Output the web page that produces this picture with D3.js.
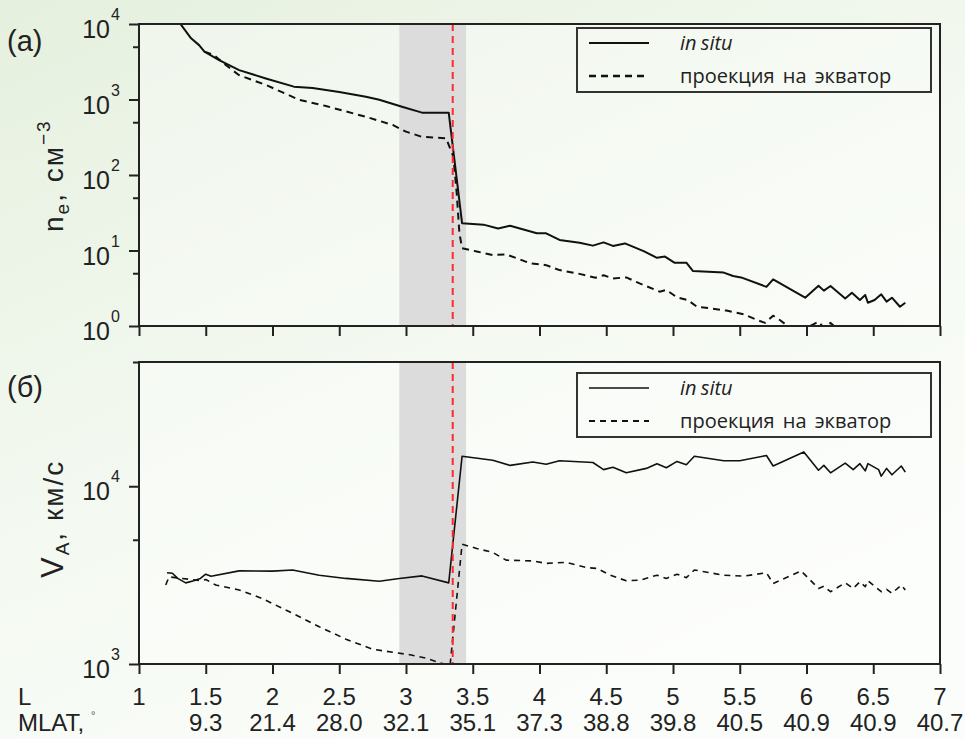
<!DOCTYPE html>
<html>
<head>
<meta charset="utf-8">
<script src="https://cdn.jsdelivr.net/npm/d3@7/dist/d3.min.js"></script>
<style>
  html, body { margin: 0; padding: 0; }
  body { width: 965px; height: 739px; overflow: hidden; }
  svg { display: block; }
</style>
</head>
<body>
<svg id="chart" width="965" height="739"></svg>
<script>
// ---- Data: electron density (panel a) ----
const neInSituL = [1.25, 1.39, 1.45, 1.49, 1.60, 1.75, 1.95, 2.16, 2.30, 2.50, 2.70, 2.80, 2.97, 3.12, 3.32, 3.42, 3.58, 3.69, 3.78, 3.98, 4.05, 4.15, 4.30, 4.40, 4.48, 4.55, 4.64, 4.78, 4.88, 4.94, 5.01, 5.10, 5.15, 5.38, 5.45, 5.51, 5.70, 5.75, 5.99, 6.09, 6.13, 6.18, 6.29, 6.34, 6.40, 6.44, 6.46, 6.51, 6.56, 6.60, 6.64, 6.70, 6.74];
const neInSitu = [14000, 6460, 5250, 4300, 3320, 2450, 1900, 1480, 1420, 1260, 1090, 990, 800, 670, 670, 23, 22, 19.6, 21.3, 16.9, 16.9, 13.8, 12.7, 11.6, 12.8, 11.5, 12.4, 9.8, 8.0, 8.3, 6.9, 6.9, 5.35, 5.1, 4.6, 4.4, 3.3, 4.15, 2.37, 3.42, 2.94, 3.39, 2.32, 2.76, 2.21, 2.57, 2.03, 2.21, 2.63, 2.1, 2.37, 1.8, 2.03];

const neEqL = [1.49, 1.56, 1.65, 1.75, 1.95, 2.20, 2.40, 2.70, 2.90, 3.00, 3.12, 3.30, 3.355, 3.38, 3.40, 3.42, 3.53, 3.65, 3.75, 3.93, 4.05, 4.15, 4.30, 4.42, 4.48, 4.55, 4.65, 4.75, 4.90, 4.95, 5.03, 5.11, 5.18, 5.28, 5.40, 5.53, 5.63, 5.69, 5.75, 5.80, 5.86, 5.95, 6.09, 6.13, 6.18, 6.25, 6.50, 6.74];
const neEq = [4300, 3890, 2860, 2100, 1560, 990, 820, 590, 460, 375, 320, 307, 175, 57, 17, 10.7, 9.7, 8.7, 8.9, 6.77, 6.4, 5.5, 4.9, 4.36, 4.7, 4.27, 4.4, 3.67, 2.85, 3.0, 2.4, 2.21, 1.8, 1.71, 1.6, 1.43, 1.2, 1.1, 1.37, 1.2, 1.0, 0.85, 1.14, 0.95, 1.1, 0.85, 0.7, 0.6];

// ---- Data: Alfvén speed (panel б) ----
const vaInSituL = [1.21, 1.25, 1.29, 1.35, 1.41, 1.46, 1.50, 1.54, 1.75, 2.00, 2.15, 2.35, 2.55, 2.80, 2.95, 3.12, 3.32, 3.42, 3.65, 3.78, 3.95, 4.05, 4.15, 4.40, 4.48, 4.55, 4.65, 4.80, 4.88, 4.95, 5.03, 5.10, 5.16, 5.38, 5.50, 5.70, 5.75, 5.98, 6.09, 6.13, 6.18, 6.29, 6.35, 6.40, 6.44, 6.46, 6.54, 6.56, 6.60, 6.64, 6.71, 6.74];
const vaInSitu = [3260, 3240, 3030, 2860, 2940, 3030, 3200, 3120, 3340, 3330, 3380, 3160, 3030, 2920, 3030, 3130, 2860, 14750, 14000, 13100, 13700, 13300, 13900, 13600, 12400, 12800, 11900, 12600, 13400, 12700, 13800, 13200, 14750, 13900, 13900, 14900, 13000, 15600, 12300, 13100, 11900, 13500, 12400, 13400, 12200, 13400, 12400, 11400, 12600, 11600, 13000, 12000];

const vaEqL = [1.20, 1.225, 1.47, 1.50, 1.575, 1.75, 1.92, 2.15, 2.35, 2.55, 2.75, 2.85, 3.02, 3.15, 3.25, 3.33, 3.42, 3.53, 3.65, 3.75, 3.95, 4.05, 4.20, 4.35, 4.43, 4.53, 4.65, 4.75, 4.88, 4.95, 5.03, 5.10, 5.16, 5.38, 5.53, 5.70, 5.75, 5.96, 6.09, 6.13, 6.18, 6.29, 6.35, 6.40, 6.44, 6.46, 6.56, 6.60, 6.64, 6.71, 6.74];
const vaEq = [2780, 3090, 2940, 2990, 2780, 2610, 2340, 1930, 1620, 1380, 1210, 1180, 1130, 1080, 1016, 980, 4720, 4470, 4240, 3840, 3800, 3680, 3730, 3490, 3450, 3160, 2940, 2960, 3160, 3030, 3200, 3060, 3380, 3160, 3120, 3260, 2840, 3340, 2660, 2740, 2550, 2860, 2660, 2900, 2720, 2940, 2550, 2630, 2500, 2780, 2610];

// ---- Axis ticks and labels ----
const lTicks = [1, 1.5, 2, 2.5, 3, 3.5, 4, 4.5, 5, 5.5, 6, 6.5, 7];
const lTickLabels = ["1", "1.5", "2", "2.5", "3", "3.5", "4", "4.5", "5", "5.5", "6", "6.5", "7"];
const mlatLabels = ["", "9.3", "21.4", "28.0", "32.1", "35.1", "37.3", "38.8", "39.8", "40.5", "40.9", "40.9", "40.7"];
const neExponents = [0, 1, 2, 3, 4];
const vaExponents = [3, 4];
const neMinor = [5, 50, 500, 5000];
const vaMinor = [5000, 50000];

// shaded interval and boundary marker
const bandL = [2.95, 3.45];
const boundaryL = 3.35;

const seriesNames = ["in situ", "проекция на экватор"];

// ---- Layout ----
const svg = d3.select("#chart");
const W = 965, H = 739;
const x = d3.scaleLinear().domain([1, 7]).range([139, 940]);
const panels = [
  { id: "a", tag: "(a)", y: d3.scaleLog().domain([1, 1e4]).range([326, 24]),
    exps: neExponents, minor: neMinor,
    series: [[neInSituL, neInSitu], [neEqL, neEq]],
    solidW: 2, dashW: 2, dash: "7,5", legendTop: 28, tagY: 51 },
  { id: "b", tag: "(б)", y: d3.scaleLog().domain([1e3, 5e4]).range([664, 362]),
    exps: vaExponents, minor: vaMinor,
    series: [[vaInSituL, vaInSitu], [vaEqL, vaEq]],
    solidW: 1.6, dashW: 1.6, dash: "6,5", legendTop: 373, tagY: 397 }
];

// background wash
const defs = svg.append("defs");
const grad = defs.append("linearGradient").attr("id", "bg")
  .attr("x1", 0).attr("y1", 0).attr("x2", 0.6).attr("y2", 1);
grad.append("stop").attr("offset", 0).attr("stop-color", "#e5f0de");
grad.append("stop").attr("offset", 0.55).attr("stop-color", "#f4f9f1");
grad.append("stop").attr("offset", 1).attr("stop-color", "#fbfdfa");
svg.append("rect").attr("width", W).attr("height", H).attr("fill", "url(#bg)");

const tickFont = "'Liberation Sans', Arial, sans-serif";

panels.forEach(p => {
  const [y0, y1] = p.y.range();
  const g = svg.append("g");

  defs.append("clipPath").attr("id", "clip-" + p.id)
    .append("rect").attr("x", x(1)).attr("y", y1)
    .attr("width", x(7) - x(1)).attr("height", y0 - y1);

  // plot area tint
  g.append("rect").attr("x", x(1)).attr("y", y1)
    .attr("width", x(7) - x(1)).attr("height", y0 - y1)
    .attr("fill", "#ffffff").attr("opacity", 0.35);

  // shaded interval
  g.append("rect").attr("x", x(bandL[0])).attr("y", y1)
    .attr("width", x(bandL[1]) - x(bandL[0])).attr("height", y0 - y1)
    .attr("fill", "#dcdcdc");

  // curves
  const plot = g.append("g").attr("clip-path", "url(#clip-" + p.id + ")");
  p.series.forEach(([ls, vs], i) => {
    const pts = ls.map((l, k) => [l, vs[k]]);
    plot.append("path")
      .attr("d", d3.line().x(d => x(d[0])).y(d => p.y(d[1]))(pts))
      .attr("fill", "none")
      .attr("stroke", "#111")
      .attr("stroke-width", i === 0 ? p.solidW : p.dashW)
      .attr("stroke-dasharray", i === 0 ? null : p.dash)
      .attr("stroke-linejoin", "round");
  });

  // boundary marker
  g.append("line").attr("x1", x(boundaryL)).attr("x2", x(boundaryL))
    .attr("y1", y1).attr("y2", y0)
    .attr("stroke", "#ff2a2a").attr("stroke-width", 2).attr("stroke-dasharray", "7,5");

  // frame
  g.append("rect").attr("x", x(1)).attr("y", y1)
    .attr("width", x(7) - x(1)).attr("height", y0 - y1)
    .attr("fill", "none").attr("stroke", "#222").attr("stroke-width", 2);

  // x ticks
  const xAxis = d3.axisBottom(x).tickValues(lTicks).tickSize(10).tickFormat("");
  g.append("g").attr("transform", `translate(0,${y0})`).call(xAxis)
    .call(a => a.select(".domain").remove())
    .selectAll("line").attr("stroke", "#222").attr("stroke-width", 2);

  // y ticks (decades and 5x minor)
  const majors = p.exps.map(e => Math.pow(10, e));
  const yAxis = d3.axisLeft(p.y).tickValues(majors).tickSize(10).tickFormat("");
  g.append("g").attr("transform", `translate(${x(1)},0)`).call(yAxis)
    .call(a => a.select(".domain").remove())
    .selectAll("line").attr("stroke", "#222").attr("stroke-width", 2);
  const yMinor = d3.axisLeft(p.y).tickValues(p.minor).tickSize(6).tickFormat("");
  g.append("g").attr("transform", `translate(${x(1)},0)`).call(yMinor)
    .call(a => a.select(".domain").remove())
    .selectAll("line").attr("stroke", "#222").attr("stroke-width", 2);

  // decade labels 10^n
  p.exps.forEach(e => {
    const yy = p.y(Math.pow(10, e));
    g.append("text").attr("x", 110).attr("y", yy + 14)
      .attr("text-anchor", "end").attr("font-family", tickFont)
      .attr("font-size", 25).attr("fill", "#222").text("10");
    g.append("text").attr("x", 111).attr("y", yy - 4)
      .attr("font-family", tickFont)
      .attr("font-size", 16).attr("fill", "#222").text(e);
  });

  // panel tag
  g.append("text").attr("x", 7).attr("y", p.tagY)
    .attr("font-family", tickFont).attr("font-size", 29).attr("fill", "#222")
    .text(p.tag);

  // legend
  const lt = p.legendTop;
  const lg = g.append("g");
  lg.append("rect").attr("x", 577).attr("y", lt).attr("width", 354).attr("height", 64)
    .attr("fill", "none").attr("stroke", "#333").attr("stroke-width", 2);
  [0, 1].forEach(i => {
    const ly = lt + 15 + i * 33;
    lg.append("line").attr("x1", 589).attr("x2", 649).attr("y1", ly).attr("y2", ly)
      .attr("stroke", "#111").attr("stroke-width", i === 0 ? p.solidW : p.dashW + 0.6)
      .attr("stroke-dasharray", i === 0 ? null : p.dash);
    lg.append("text").attr("x", 680).attr("y", ly + 7)
      .attr("font-family", "'Open Sans', 'Noto Sans', sans-serif")
      .attr("font-size", 20).attr("fill", "#222")
      .attr("font-style", i === 0 ? "italic" : "normal")
      .attr("word-spacing", i === 0 ? -1 : 3)
      .text(seriesNames[i]);
  });
});

// y-axis titles
const t1 = svg.append("text").attr("transform", "translate(63,232) rotate(-90)")
  .attr("font-family", tickFont).attr("font-size", 28).attr("fill", "#222")
  .attr("letter-spacing", 2);
t1.append("tspan").text("n");
t1.append("tspan").attr("font-size", 19).attr("dy", 6).text("e");
t1.append("tspan").attr("dy", -6).text(", см");
t1.append("tspan").attr("font-size", 19).attr("dy", -13).text("\u22123");

const t2 = svg.append("text").attr("transform", "translate(63,578) rotate(-90)")
  .attr("font-family", tickFont).attr("font-size", 31).attr("fill", "#222")
  .attr("letter-spacing", 2);
t2.append("tspan").text("V");
t2.append("tspan").attr("font-size", 19).attr("dy", 6).text("A");
t2.append("tspan").attr("dy", -6).attr("font-size", 28).text(", км/с");

// bottom axis labels: L and MLAT
svg.append("text").attr("x", 18).attr("y", 705)
  .attr("font-family", tickFont).attr("font-size", 24).attr("fill", "#222").text("L");
svg.append("text").attr("x", 18).attr("y", 731)
  .attr("font-family", tickFont).attr("font-size", 24).attr("fill", "#222").text("MLAT,");
svg.append("text").attr("x", 91).attr("y", 719)
  .attr("font-family", tickFont).attr("font-size", 11).attr("fill", "#555").text("°");

lTicks.forEach((l, i) => {
  svg.append("text").attr("x", x(l)).attr("y", 705).attr("text-anchor", "middle")
    .attr("font-family", tickFont).attr("font-size", 24).attr("fill", "#222")
    .text(lTickLabels[i]);
  if (mlatLabels[i]) {
    svg.append("text").attr("x", x(l)).attr("y", 731).attr("text-anchor", "middle")
      .attr("font-family", tickFont).attr("font-size", 24).attr("fill", "#222")
      .text(mlatLabels[i]);
  }
});
</script>
</body>
</html>
